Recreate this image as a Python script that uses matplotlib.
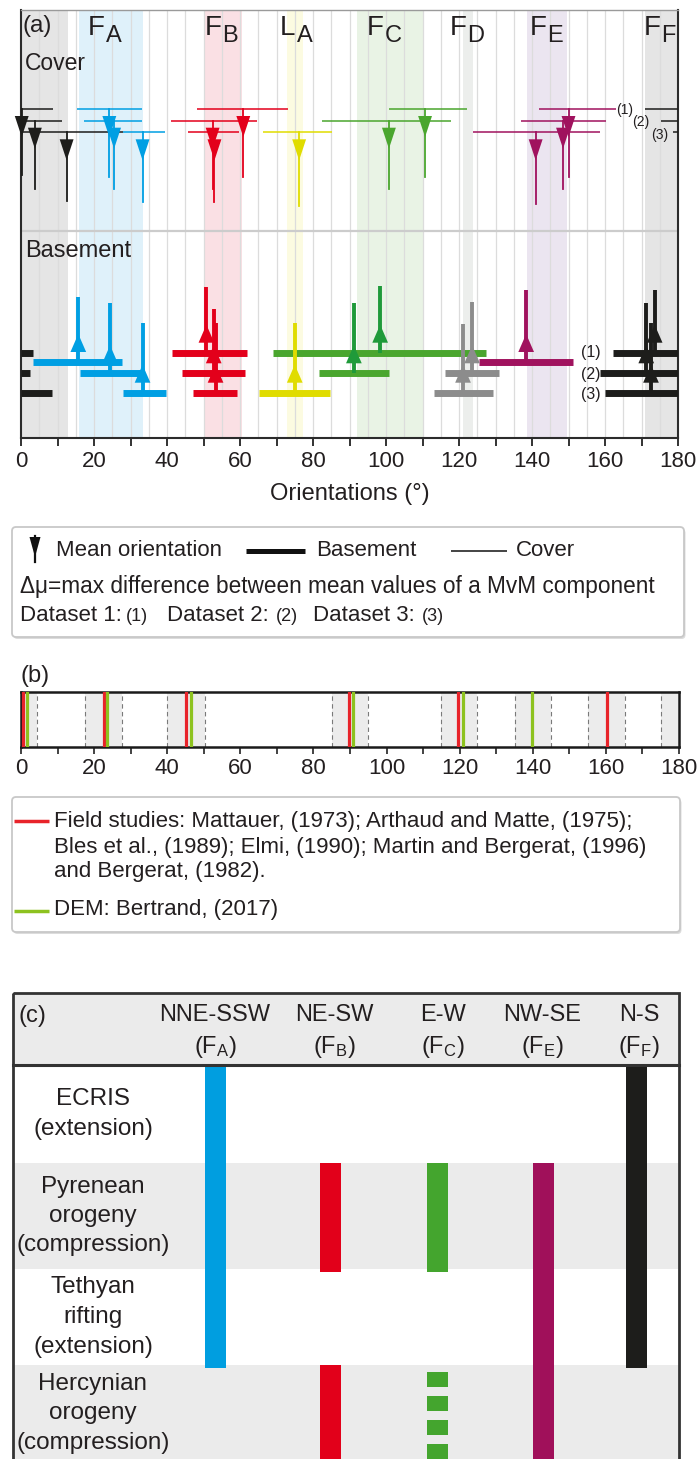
import matplotlib
matplotlib.use('Agg')
import matplotlib.pyplot as plt
from matplotlib.patches import Polygon, Rectangle, FancyBboxPatch

plt.rcParams['font.family'] = ['Liberation Sans', 'DejaVu Sans']
plt.rcParams['mathtext.default'] = 'regular'
plt.rcParams['mathtext.fontset'] = 'custom'
plt.rcParams['mathtext.rm'] = 'Liberation Sans'

# ======================= DATA =======================
# (a) fault families: colour, background band (deg, may wrap past 180)
families = ['FA', 'FB', 'LA', 'FC', 'FD', 'FE', 'FF']
family_color = ['#009fe3', '#e3001b', '#e0dc00', '#4aa62e', '#8c8c8c', '#a0125e', '#1d1d1b']
family_band_color = ['#dff1fa', '#fae0e4', '#fcfbe1', '#e9f3e5', '#eceeec', '#ebe5f0', '#e5e5e5']
band_lo = [16.0, 50.0, 73.0, 92.0, 121.0, 138.5, 171.0]
band_hi = [33.3, 60.6, 77.2, 110.0, 123.7, 149.5, 193.0]

# cover: mean orientation and delta-mu range per dataset
cover_family = ['FF', 'FF', 'FF', 'FA', 'FA', 'FA', 'FB', 'FB', 'FB', 'LA', 'FC', 'FC', 'FE', 'FE', 'FE']
cover_dataset = [1, 2, 3, 1, 2, 3, 1, 2, 3, 3, 1, 2, 1, 2, 3]
cover_mean = [180.2, 183.8, 192.5, 24.2, 25.5, 33.3, 60.9, 52.5, 53.0, 76.2, 110.7, 100.8, 150.0, 148.5, 141.0]
cover_lo = [171.0, 175.4, 178.6, 15.4, 17.2, 28.0, 48.3, 41.0, 45.8, 66.3, 100.7, 82.5, 142.0, 137.0, 123.8]
cover_hi = [188.9, 191.1, 208.0, 33.2, 33.2, 39.4, 73.2, 64.7, 59.8, 85.3, 122.2, 117.7, 162.9, 160.3, 158.5]
cover_stem = [66, 68, 69, 68, 68, 70, 68, 68, 70, 74, 68, 68, 68, 68, 72]

# basement
base_family = ['FA', 'FA', 'FA', 'FB', 'FB', 'FB', 'LA', 'FC', 'FC', 'FD', 'FD', 'FE', 'FF', 'FF', 'FF']
base_slot = [1.5, 2, 3, 1, 2, 3, 3, 1, 2, 2, 3, 1.5, 1, 2, 3]
base_mean = [15.7, 24.4, 33.3, 50.8, 52.8, 53.3, 75.0, 98.4, 91.2, 123.6, 121.1, 138.4, 173.6, 171.3, 172.6]
base_lo = [3.2, 16.2, 28.0, 41.3, 44.0, 47.2, 65.2, 69.1, 81.7, 116.3, 113.1, 125.5, 162.1, 158.5, 160.1]
base_hi = [27.6, 33.0, 39.7, 62.0, 61.3, 59.2, 84.6, 127.5, 100.8, 130.9, 129.3, 151.2, 183.4, 182.5, 188.4]
base_stem = [65, 70, 70, 66, 64, 70, 70, 67, 70, 71, 69, 72, 63, 70, 70]

x_ticks = [0, 20, 40, 60, 80, 100, 120, 140, 160, 180]

# (b) literature orientations
field_orient = [0.6, 22.6, 45.2, 89.7, 119.6, 160.2]
dem_orient = [1.6, 23.6, 46.4, 90.9, 120.8, 139.7]
b_band_lo = [-5, 17.5, 40, 85, 115, 135, 155, 175]
b_band_hi = [4.5, 27.7, 50.4, 94.9, 124.8, 145.0, 165.1, 185]

# (c) table
table_rows = ['ECRIS\n(extension)', 'Pyrenean\norogeny\n(compression)',
              'Tethyan\nrifting\n(extension)', 'Hercynian\norogeny\n(compression)']
table_cols = ['NNE-SSW', 'NE-SW', 'E-W', 'NW-SE', 'N-S']
table_col_sub = ['A', 'B', 'C', 'E', 'F']
table_col_color = ['#009ee0', '#e2001a', '#44a52e', '#a0105a', '#1d1d1b']
bar_col = [0, 1, 1, 2, 2, 3, 4]
bar_first_row = [0, 1, 3, 1, 3, 1, 0]
bar_last_row = [2, 1, 3, 1, 3, 3, 2]
bar_dashed = [False, False, False, False, True, False, False]

# ======================= LAYOUT =======================
W, H = 700, 1459
fig = plt.figure(figsize=(W / 100, H / 100), dpi=100)
TXT = '#231f20'


def rect(x0, y0, x1, y1):
    return [x0 / W, 1 - y1 / H, (x1 - x0) / W, (y1 - y0) / H]


def segments(lo, hi):
    if hi <= 180:
        return [(lo, hi)]
    return [(lo, 180.0), (0.0, hi - 180.0)]


fcol = dict(zip(families, family_color))
GREEN_ARROW_BASE = '#1f9a3a'

# ---------------- panel (a) ----------------
ax = fig.add_axes(rect(21, 10, 678, 438))
ax.set_xlim(0, 180)
ax.set_ylim(438, 10)   # vertical layout in pixel rows

for fam, bc, lo, hi in zip(families, family_band_color, band_lo, band_hi):
    for a, b in segments(lo, hi):
        ax.axvspan(a, b, color=bc, lw=0, zorder=0)
for g in range(5, 180, 5):
    ax.axvline(g, color='#dcdcdc', lw=0.9, zorder=0.5)
ax.axhline(231, color='#cccccc', lw=1.6, zorder=1)

COVER_Y = {1: 109.0, 2: 120.7, 3: 132.3}
BASE_Y = {1: 352.7, 1.5: 362.0, 2: 373.3, 3: 392.7}
TW_C = 3.8
TW_B = 4.3

for fam, ds, m, lo, hi, st in zip(cover_family, cover_dataset, cover_mean, cover_lo, cover_hi, cover_stem):
    c = fcol[fam]
    y = COVER_Y[ds]
    for a, b in segments(lo, hi):
        ax.plot([a, b], [y, y], color=c, lw=1.1, solid_capstyle='butt', zorder=3)
    x = m % 180
    ax.plot([x, x], [y, y + st], color=c, lw=1.3, zorder=4, clip_on=False)
    ax.add_patch(Polygon([(x - TW_C / 2, y + 7), (x + TW_C / 2, y + 7), (x, y + 28)],
                         closed=True, facecolor=c, edgecolor='none', zorder=4, clip_on=False))

for fam, sl, lo, hi in zip(base_family, base_slot, base_lo, base_hi):
    y = BASE_Y[sl]
    for a, b in segments(lo, hi):
        ax.plot([a, b], [y, y], color=fcol[fam], lw=5, solid_capstyle='butt', zorder=3)

for fam, sl, m, st in zip(base_family, base_slot, base_mean, base_stem):
    c = GREEN_ARROW_BASE if fam == 'FC' else fcol[fam]
    y = BASE_Y[sl]
    x = m % 180
    ax.plot([x, x], [y, y - st], color=c, lw=2.8, solid_capstyle='butt', zorder=5)
    ax.add_patch(Polygon([(x - TW_B / 2, y - 10), (x + TW_B / 2, y - 10), (x, y - 28)],
                         closed=True, facecolor=c, edgecolor='none', zorder=5))

# family labels
label_x = [18.3, 50.3, 70.8, 94.8, 117.4, 139.3, 170.5]
for fam, lx in zip(families, label_x):
    ax.text(lx, 35, fam[0], fontsize=20, color=TXT, va='baseline', ha='left', zorder=6)
    ax.text(lx + 4.9, 41.7, fam[1], fontsize=17, color=TXT, va='baseline', ha='left', zorder=6)

ax.text(0.4, 32, '(a)', fontsize=17.5, color=TXT, va='baseline', ha='left', zorder=6)
ax.text(1.1, 70, 'Cover', fontsize=16.5, color=TXT, va='baseline', ha='left', zorder=6)
ax.text(1.1, 257, 'Basement', fontsize=17, color=TXT, va='baseline', ha='left', zorder=6)
for k, (xx, yy) in enumerate([(165.5, 110), (169.9, 121.5), (174.9, 135)]):
    ax.text(xx, yy, '(%d)' % (k + 1), fontsize=10, color=TXT, ha='center', va='center', zorder=6)
for k, yy in enumerate([352.5, 375, 395]):
    ax.text(156, yy, '(%d)' % (k + 1), fontsize=11.5, color=TXT, ha='center', va='center', zorder=6)

ax.set_xticks(x_ticks)
ax.set_xticks(range(0, 181, 10), minor=True)
ax.set_yticks([])
ax.tick_params(which='both', direction='out', length=6, width=1.3, color='#222222')
ax.tick_params(which='major', labelsize=16, pad=3, labelcolor=TXT)
for s in ['left', 'right', 'bottom']:
    ax.spines[s].set_color('#2b2b2b')
    ax.spines[s].set_linewidth(1.5)
ax.spines['top'].set_color('#9a9a9a')
ax.spines['top'].set_linewidth(1.0)

# ---------------- panel (b) ----------------
axb = fig.add_axes(rect(21, 692, 679, 747))
axb.set_xlim(0, 180)
axb.set_ylim(0, 1)
for lo, hi in zip(b_band_lo, b_band_hi):
    axb.axvspan(lo, hi, color='#ececec', lw=0, zorder=0)
    for e in (lo, hi):
        if 0 < e < 180:
            axb.axvline(e, color='#7a7a7a', lw=0.8, ls=(0, (4, 3)), zorder=1)
for v in field_orient:
    axb.axvline(v, color='#e8232a', lw=2.3, zorder=3)
for v in dem_orient:
    axb.axvline(v, color='#8dc21f', lw=2.3, zorder=3)
axb.set_xticks(x_ticks)
axb.set_xticks(range(0, 181, 10), minor=True)
axb.set_yticks([])
axb.tick_params(which='both', direction='out', length=5, width=1.2, color='#222222')
axb.tick_params(which='major', labelsize=16, pad=3, labelcolor=TXT)
for s in axb.spines.values():
    s.set_color('#1a1a1a')
    s.set_linewidth(1.8)

# ---------------- overlay (legends, labels, table) ----------------
ov = fig.add_axes([0, 0, 1, 1])
ov.set_xlim(0, W)
ov.set_ylim(H, 0)
ov.axis('off')

ov.text(350, 494, 'Orientations (°)', fontsize=17, color=TXT, ha='center', va='center')


def legend_box(x0, y0, x1, y1):
    ov.add_patch(FancyBboxPatch((x0 + 1.5, y0 + 2), x1 - x0, y1 - y0,
                                boxstyle='round,pad=0,rounding_size=4',
                                fc='#dcdcdc', ec='none', zorder=1))
    ov.add_patch(FancyBboxPatch((x0, y0), x1 - x0, y1 - y0,
                                boxstyle='round,pad=0,rounding_size=4',
                                fc='white', ec='#c8c8c8', lw=1.3, zorder=2))


# legend (a)
legend_box(12, 527, 684, 637)
ov.plot([35, 35], [536, 562], color='#111111', lw=1.6, zorder=3)
ov.add_patch(Polygon([(29.5, 537), (40.5, 537), (35, 557)], closed=True,
                     facecolor='#111111', edgecolor='none', zorder=3))
ov.text(56, 551, 'Mean orientation', fontsize=16, color=TXT, va='center', zorder=3)
ov.plot([246, 305], [551, 551], color='#111111', lw=3.6, solid_capstyle='butt', zorder=3)
ov.text(316, 551, 'Basement', fontsize=16, color=TXT, va='center', zorder=3)
ov.plot([451, 507], [551, 551], color='#111111', lw=1.1, solid_capstyle='butt', zorder=3)
ov.text(516, 551, 'Cover', fontsize=16, color=TXT, va='center', zorder=3)
ov.text(20, 587, 'Δμ=max difference between mean values of a MvM component',
        fontsize=16.3, color=TXT, va='center', zorder=3)
for xx, s in [(20, 'Dataset 1:'), (167, 'Dataset 2:'), (313, 'Dataset 3:')]:
    ov.text(xx, 621, s, fontsize=16, color=TXT, va='baseline', ha='left', zorder=3)
for xx, s in [(126, '(1)'), (276, '(2)'), (422, '(3)')]:
    ov.text(xx, 621, s, fontsize=13, color=TXT, va='baseline', ha='left', zorder=3)

# panel (b) label
ov.text(20, 682, '(b)', fontsize=17, color=TXT, va='baseline')

# legend (b)
legend_box(12, 797, 680, 932)
ov.plot([13.5, 49], [821, 821], color='#e8232a', lw=2.5, solid_capstyle='butt', zorder=3)
ov.plot([13.5, 49], [911, 911], color='#8dc21f', lw=2.5, solid_capstyle='butt', zorder=3)
for yy, s in [(822, 'Field studies: Mattauer, (1973); Arthaud and Matte, (1975);'),
              (848, 'Bles et al., (1989); Elmi, (1990); Martin and Bergerat, (1996)'),
              (872, 'and Bergerat, (1982).'),
              (910, 'DEM: Bertrand, (2017)')]:
    ov.text(54, yy, s, fontsize=16, color=TXT, va='center', zorder=3)

# ---------------- panel (c) table ----------------
TX0, TX1, TY0 = 12.6, 679, 993
HEAD_Y1 = 1065
ROW_EDGES = [1065, 1163, 1269, 1365, 1462]
HEAD_X = [215, 334, 443, 542, 639]
BAR_X = [215, 330, 437, 543, 636]
BAR_W = 21

ov.add_patch(Rectangle((TX0, TY0), TX1 - TX0, HEAD_Y1 - TY0, fc='#ebebeb', ec='none', zorder=1))
for i in range(len(table_rows)):
    if i % 2 == 1:
        ov.add_patch(Rectangle((TX0, ROW_EDGES[i]), TX1 - TX0, ROW_EDGES[i + 1] - ROW_EDGES[i],
                               fc='#ebebeb', ec='none', zorder=1))

for c, r0, r1, dsh in zip(bar_col, bar_first_row, bar_last_row, bar_dashed):
    col = table_col_color[c]
    top = ROW_EDGES[r0] + (1 if r0 == 0 else 0)
    bot = ROW_EDGES[r1 + 1] + 3
    x0 = BAR_X[c] - BAR_W / 2
    if not dsh:
        ov.add_patch(Rectangle((x0, top), BAR_W, bot - top, fc=col, ec='none', zorder=2))
    else:
        y = top + 7
        while y < bot:
            ov.add_patch(Rectangle((x0, y), BAR_W, 15, fc=col, ec='none', zorder=2))
            y += 24

ov.add_patch(Rectangle((TX0, TY0), TX1 - TX0, 480, fill=False, ec='#333333', lw=2, zorder=4))
ov.plot([TX0, TX1], [HEAD_Y1, HEAD_Y1], color='#333333', lw=2.2, zorder=4)

ov.text(18, 1016, '(c)', fontsize=17, color=TXT, va='center', ha='left', zorder=5)
for hx, name, sub in zip(HEAD_X, table_cols, table_col_sub):
    ov.text(hx, 1015, name, fontsize=17, color=TXT, ha='center', va='center', zorder=5)
    ov.text(hx, 1047, '(F$_{%s}$)' % sub, fontsize=17, color=TXT, ha='center', va='center', zorder=5)

LINE_GAP = 29.5
for i, lab in enumerate(table_rows):
    lines = lab.split('\n')
    cy = (ROW_EDGES[i] + ROW_EDGES[i + 1]) / 2
    n = len(lines)
    for k, ln in enumerate(lines):
        ov.text(93, cy + (k - (n - 1) / 2) * LINE_GAP, ln, fontsize=17.5, color=TXT,
                ha='center', va='center', zorder=5)

fig.savefig('out.png', dpi=100)
